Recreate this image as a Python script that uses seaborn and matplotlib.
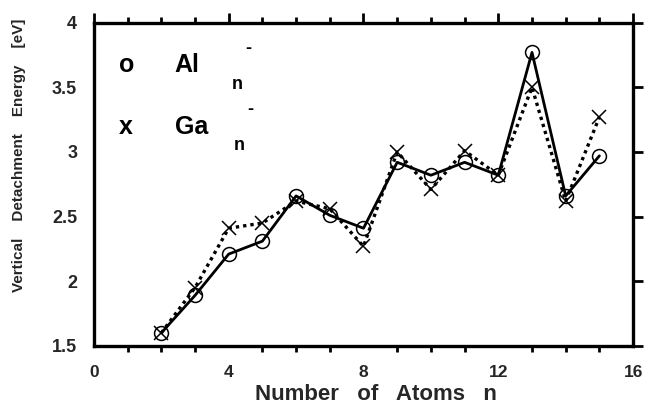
import matplotlib
matplotlib.use("Agg")
import matplotlib.pyplot as plt
import seaborn as sns
import pandas as pd

sns.set_theme(style="white")
plt.rcParams["font.family"] = ["Liberation Sans", "DejaVu Sans"]
plt.rcParams["font.weight"] = "bold"

atoms = [2, 3, 4, 5, 6, 7, 8, 9, 10, 11, 12, 13, 14, 15]
al_vde = [1.60, 1.89, 2.21, 2.31, 2.66, 2.51, 2.41, 2.92, 2.82, 2.92, 2.82, 3.77, 2.66, 2.97]
ga_vde = [1.60, 1.95, 2.41, 2.45, 2.62, 2.56, 2.27, 3.00, 2.71, 3.01, 2.82, 3.50, 2.62, 3.27]
x_ticks = [0, 4, 8, 12, 16]
y_ticks = [1.5, 2, 2.5, 3, 3.5, 4]

al_df = pd.DataFrame({"n": atoms, "vde": al_vde})
ga_df = pd.DataFrame({"n": atoms, "vde": ga_vde})

fig = plt.figure(figsize=(6.52, 4.05), dpi=100)
ax = fig.add_axes([0.144, 0.146, 0.827, 0.798])

sns.lineplot(data=ga_df, x="n", y="vde", ax=ax, color="black", linestyle=(0, (1, 1.2)),
             linewidth=2.4, marker="x", markersize=10, markeredgewidth=1.1,
             markeredgecolor="black")
sns.lineplot(data=al_df, x="n", y="vde", ax=ax, color="black", linestyle="-",
             linewidth=2.0, marker="o", markersize=10, markerfacecolor="none",
             markeredgecolor="black", markeredgewidth=1.1)

ax.set_xlim(0, 16)
ax.set_ylim(1.5, 4)
ax.set_xticks(x_ticks)
ax.set_xticks(range(0, 17), minor=True)
ax.set_yticks(y_ticks)
ax.set_yticklabels([f"{v:g}" for v in y_ticks])
ax.tick_params(axis="both", which="major", direction="out", length=7, width=2,
               color="black", top=True, right=True, labeltop=False, labelright=False)
ax.tick_params(axis="y", which="major", labelsize=13, pad=5)
ax.tick_params(axis="x", which="major", labelsize=12.5, pad=7)
ax.tick_params(axis="x", which="minor", direction="out", length=4, width=2,
               color="black", top=True, bottom=True)
for lbl in ax.get_xticklabels() + ax.get_yticklabels():
    lbl.set_fontweight("bold")

for s in ax.spines.values():
    s.set_visible(True)
    s.set_color("black")
    s.set_linewidth(2.4)

ax.set_xlabel("Number   of   Atoms   n", fontsize=16, fontweight="bold")
ax.xaxis.set_label_coords(0.523, -0.118)
ax.set_ylabel("Vertical    Detachment    Energy    [eV]", fontsize=11,
              fontweight="bold")
ax.yaxis.set_label_coords(-0.125, 0.59)

# legend-style annotations
big = dict(fontsize=18, fontweight="bold", color="black", va="center", ha="left")
small = dict(fontsize=13, fontweight="bold", color="black", va="center", ha="left")
ax.text(0.75, 3.67, "o", **big)
ax.text(2.4, 3.67, "Al", **big)
ax.text(4.5, 3.80, "-", **small)
ax.text(4.1, 3.52, "n", **small)
ax.text(0.75, 3.19, "x", **big)
ax.text(2.4, 3.19, "Ga", **big)
ax.text(4.55, 3.33, "-", **small)
ax.text(4.15, 3.05, "n", **small)

fig.savefig("out.png", dpi=100)
